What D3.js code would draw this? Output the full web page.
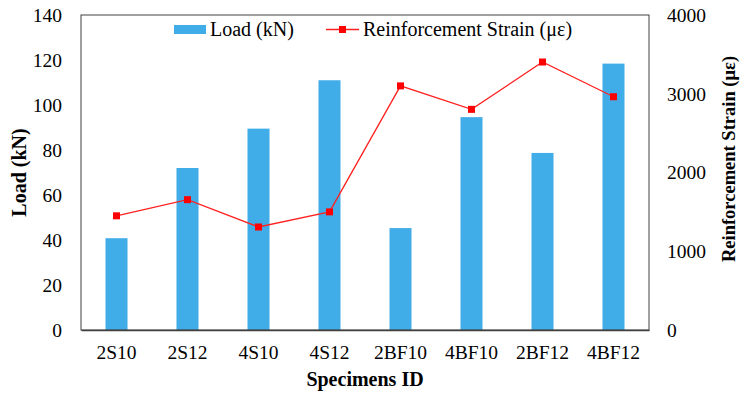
<!DOCTYPE html>
<html>
<head>
<meta charset="utf-8">
<script src="https://cdn.jsdelivr.net/npm/d3@7"></script>
<style>
  body { margin: 0; background: #fff; }
  svg text { font-family: 'Liberation Serif', 'Times New Roman', 'DejaVu Serif', serif; fill: #000; }
</style>
</head>
<body>
<div id="chart"></div>
<script>
// data
var specimens = ["2S10", "2S12", "4S10", "4S12", "2BF10", "4BF10", "2BF12", "4BF12"];
var load = [40.8, 72.0, 89.5, 111.0, 45.3, 94.6, 78.7, 118.4];
var strain = [1450, 1655, 1308, 1500, 3100, 2802, 3403, 2962];
var loadTicks = [0, 20, 40, 60, 80, 100, 120, 140];
var strainTicks = [0, 1000, 2000, 3000, 4000];

var serif = "'Liberation Serif', 'Times New Roman', serif";

var margin = {top: 15, right: 96, bottom: 63, left: 81},
    W = 745, H = 393,
    width = W - margin.left - margin.right,
    height = H - margin.top - margin.bottom;

var svg = d3.select("#chart")
  .append("svg")
  .attr("width", W)
  .attr("height", H)
  .append("g")
  .attr("transform", "translate(" + margin.left + "," + margin.top + ")");

var x = d3.scaleBand()
  .domain(specimens)
  .range([0, width])
  .paddingInner(0.69)
  .paddingOuter(0.345);

var y = d3.scaleLinear().domain([0, 140]).range([height, 0]);
var y2 = d3.scaleLinear().domain([0, 4000]).range([height, 0]);

// bars
svg.selectAll(".bar")
  .data(specimens)
  .enter().append("rect")
  .attr("class", "bar")
  .attr("x", function(d) { return x(d); })
  .attr("width", x.bandwidth())
  .attr("y", function(d, i) { return y(load[i]); })
  .attr("height", function(d, i) { return height - y(load[i]); })
  .attr("fill", "#41ADE8");

// frame
svg.append("rect")
  .attr("width", width)
  .attr("height", height)
  .attr("fill", "none")
  .attr("stroke", "#404040")
  .attr("stroke-width", 1);

// left axis
svg.append("g")
  .call(d3.axisLeft(y).tickValues(loadTicks).tickSize(0).tickPadding(19))
  .attr("font-family", serif)
  .attr("font-size", 19.5)
  .call(function(g) { g.select(".domain").remove(); });

// right axis
svg.append("g")
  .attr("transform", "translate(" + width + ",0)")
  .call(d3.axisRight(y2).tickValues(strainTicks).tickFormat(d3.format("d")).tickSize(0).tickPadding(18))
  .attr("font-family", serif)
  .attr("font-size", 19.5)
  .call(function(g) { g.select(".domain").remove(); });

// bottom axis
svg.append("g")
  .attr("transform", "translate(0," + height + ")")
  .call(d3.axisBottom(x).tickSize(0).tickPadding(15))
  .attr("font-family", serif)
  .attr("font-size", 19.5)
  .call(function(g) { g.select(".domain").attr("stroke", "#404040").attr("stroke-width", 1.5); });

// strain line
svg.append("path")
  .datum(strain)
  .attr("fill", "none")
  .attr("stroke", "#FF2020")
  .attr("stroke-width", 1.3)
  .attr("d", d3.line()
    .x(function(d, i) { return x(specimens[i]) + x.bandwidth() / 2; })
    .y(function(d) { return y2(d); }));

svg.selectAll(".pt")
  .data(strain)
  .enter().append("rect")
  .attr("class", "pt")
  .attr("x", function(d, i) { return x(specimens[i]) + x.bandwidth() / 2 - 3.5; })
  .attr("y", function(d) { return y2(d) - 3.5; })
  .attr("width", 7)
  .attr("height", 7)
  .attr("fill", "#FF0000");

// axis titles
svg.append("text")
  .attr("transform", "translate(" + (-55) + "," + (height / 2) + ") rotate(-90)")
  .attr("text-anchor", "middle")
  .style("font-size", "20px")
  .style("font-weight", "bold")
  .text("Load (kN)");

svg.append("text")
  .attr("transform", "translate(" + (width + 86) + "," + 144 + ") rotate(-90)")
  .attr("text-anchor", "middle")
  .style("font-size", "18.5px")
  .style("font-weight", "bold")
  .text("Reinforcement Strain (με)");

svg.append("text")
  .attr("x", width / 2)
  .attr("y", height + 56)
  .attr("text-anchor", "middle")
  .style("font-size", "20px")
  .style("font-weight", "bold")
  .text("Specimens ID");

// legend
var legend = d3.select("svg").append("g");
legend.append("rect")
  .attr("x", 174).attr("y", 25)
  .attr("width", 32).attr("height", 9)
  .attr("fill", "#41ADE8");
legend.append("text")
  .attr("x", 210).attr("y", 36)
  .style("font-size", "20px")
  .text("Load (kN)");
legend.append("line")
  .attr("x1", 326).attr("x2", 359)
  .attr("y1", 29.5).attr("y2", 29.5)
  .attr("stroke", "#FF2020").attr("stroke-width", 1.3);
legend.append("rect")
  .attr("x", 339).attr("y", 26)
  .attr("width", 7).attr("height", 7)
  .attr("fill", "#FF0000");
legend.append("text")
  .attr("x", 363).attr("y", 36)
  .style("font-size", "20px")
  .text("Reinforcement Strain (με)");
</script>
</body>
</html>
